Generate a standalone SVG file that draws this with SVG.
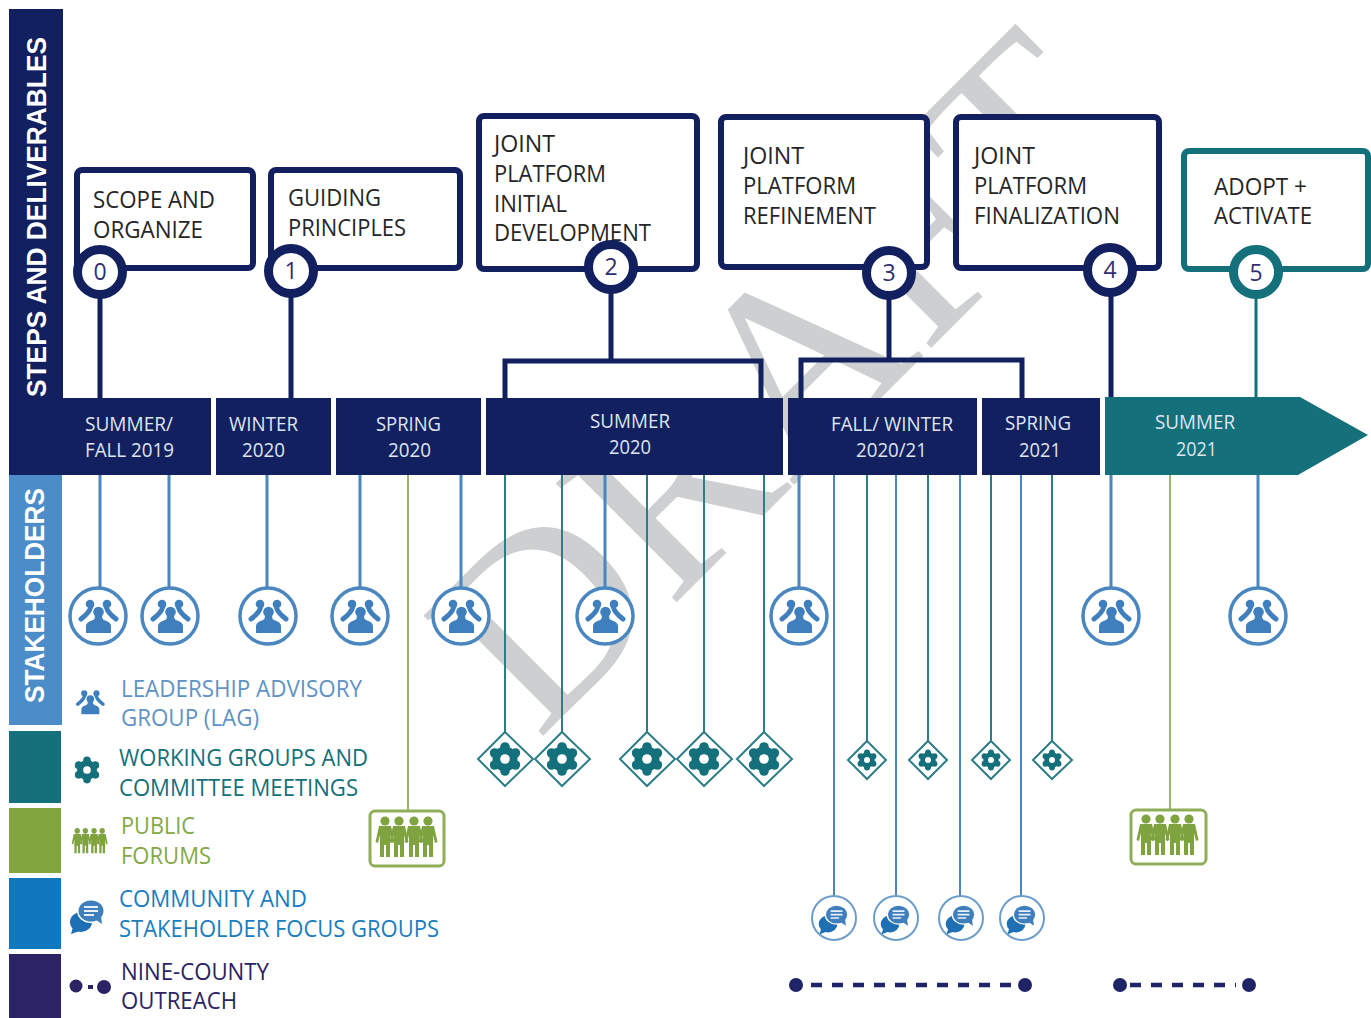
<svg xmlns="http://www.w3.org/2000/svg" xmlns:xlink="http://www.w3.org/1999/xlink" width="1371" height="1018" viewBox="0 0 1371 1018">
<style>
text{font-family:"Open Sans","Noto Sans","Liberation Sans",sans-serif}
.box{fill:#fff;stroke:#12205f;stroke-width:6}
.boxt{fill:#fff;stroke:#14707a;stroke-width:6}
.t{font-size:24px;fill:#262626}
.b{font-size:20px;fill:#dfe5ef}
.l{font-size:24px}
.num{font-size:23px;fill:#2f2f72;text-anchor:middle}
.ring{fill:#fff;stroke:#12205f;stroke-width:9}
.ringt{fill:#fff;stroke:#14707a;stroke-width:9}
.side{font-family:"Liberation Sans",Arial,sans-serif;font-weight:700;font-size:27px;fill:#fff}
.nv{fill:none;stroke:#12205f;stroke-width:5}
.bl{fill:none;stroke:#4a86c0;stroke-width:3}
.bt{fill:none;stroke:#4a86c0;stroke-width:2}
.te{fill:none;stroke:#2d7d86;stroke-width:2}
.gr{fill:none;stroke:#9db56a;stroke-width:2}
.cp{fill:#fff;stroke:#4a86c0;stroke-width:3.5}
.cc{fill:#fff;stroke:#6d9dcb;stroke-width:2}
.dm{fill:#fff;stroke:#2d7d86;stroke-width:2}
.fb{fill:#fff;stroke:#8fae58;stroke-width:3}
</style>
<defs>
<g id="people">
<g fill="none" stroke="#3f7fbe" stroke-width="5" stroke-linecap="round"><path d="M-7 -9 Q-9 -3 -17 3"/><path d="M8 -9 Q10 -3 18 3"/></g>
<circle cx="-8" cy="-12" r="4.300" fill="#3f7fbe"/><circle cx="9" cy="-12" r="4.300" fill="#3f7fbe"/>
<circle cx="0.500" cy="-4" r="6.800" fill="#fff"/>
<path d="M-14 18 V9 Q-14 5 -7 3 L8 3 Q15 5 15 9 V18 Z" fill="#fff"/>
<circle cx="0.500" cy="-4" r="5.300" fill="#3f7fbe"/>
<path d="M-12 17 V10 Q-12 6 -5 4 Q-3 3 -3 0 H4 Q4 3 6 4 Q13 6 13 10 V17 Z" fill="#3f7fbe"/>
</g>
<g id="gear" fill="#14707a">
<circle r="12.500"/>
<circle cx="0" cy="-12" r="4.800"/><circle cx="10.400" cy="-6" r="4.800"/><circle cx="10.400" cy="6" r="4.800"/><circle cx="0" cy="12" r="4.800"/><circle cx="-10.400" cy="6" r="4.800"/><circle cx="-10.400" cy="-6" r="4.800"/>
<circle r="4.800" fill="#fff"/>
</g>
<g id="chat">
<ellipse cx="-7" cy="7" rx="11" ry="10" fill="#1f6fb5"/>
<path d="M-15 12 L-17 19 L-8 16Z" fill="#1f6fb5"/>
<ellipse cx="3" cy="-4" rx="14" ry="12" fill="#fff"/>
<ellipse cx="3" cy="-4" rx="12.500" ry="10.500" fill="#3f7fbe"/>
<path d="M8 5 L14 9 L13 1Z" fill="#3f7fbe"/>
<path d="M-4 -8 H10 M-4 -4 H10 M-4 0 H6" stroke="#e8f0f8" stroke-width="2"/>
</g>
<g id="person" fill="#7ea33f">
<circle cx="0" cy="-18" r="4.600"/>
<path d="M-6 -13 H6 L9.500 3 L7 4 L5 -4 V18 H1 V6 H-1 V18 H-5 V-4 L-7 4 L-9.500 3 Z"/>
</g>
<g id="crowd">
<use xlink:href="#person" href="#person" x="-22"/><use xlink:href="#person" href="#person" x="-8"/><use xlink:href="#person" href="#person" x="7"/><use xlink:href="#person" href="#person" x="21"/>
</g>
</defs>

<rect width="1371" height="1018" fill="#fff"/>
<text id="watermark" transform="translate(538 741) rotate(-45)" style="font-family:'Liberation Serif','Times New Roman',serif" font-size="259" fill="#cdcfd0">DRAFT</text>

<g id="connectors">
<path class="nv" d="M100 290V398M291 290V398M611 290V360M505 398V361H761V398M889 295V359M801 398V360H1022V398M1111 292V398"/>
<path d="M1256 290V398" fill="none" stroke="#14707a" stroke-width="3"/>
<path class="bl" d="M100 475V590M169 475V590M267 475V590M360 475V590M461 475V590M605 475V590M799 475V590M1111 475V590M1258 475V590"/>
<path class="te" d="M505 475V735M562 475V735M647 475V735M704 475V735M764 475V735M867 475V742M928 475V742M991 475V742M1052 475V742"/>
<path class="bt" d="M834 475V897M896 475V897M960 475V897M1021 475V897"/>
<path class="gr" d="M408 475V811M1170 475V810"/>
<path d="M811 985H1018M1130 985H1236" fill="none" stroke="#1f2468" stroke-width="4.500" stroke-dasharray="11 10"/>
</g>

<g id="bars">
<rect x="9" y="9" width="54" height="466" fill="#12205f"/>
<rect x="9" y="398" width="202" height="77" fill="#12205f"/>
<rect x="216" y="398" width="115" height="77" fill="#12205f"/>
<rect x="336" y="398" width="145" height="77" fill="#12205f"/>
<rect x="486" y="398" width="297" height="77" fill="#12205f"/>
<rect x="788" y="398" width="189" height="77" fill="#12205f"/>
<rect x="982" y="398" width="118" height="77" fill="#12205f"/>
<path d="M1105 397H1300L1368 435L1298 475H1105Z" fill="#14707a"/>
<text class="b" x="85" y="431" textLength="88" lengthAdjust="spacingAndGlyphs">SUMMER/</text>
<text class="b" x="85" y="457" textLength="89" lengthAdjust="spacingAndGlyphs">FALL 2019</text>
<text class="b" x="229" y="431" textLength="69" lengthAdjust="spacingAndGlyphs">WINTER</text>
<text class="b" x="242" y="457" textLength="43" lengthAdjust="spacingAndGlyphs">2020</text>
<text class="b" x="376" y="431" textLength="65" lengthAdjust="spacingAndGlyphs">SPRING</text>
<text class="b" x="388" y="457" textLength="43" lengthAdjust="spacingAndGlyphs">2020</text>
<text class="b" x="590" y="428" textLength="80" lengthAdjust="spacingAndGlyphs">SUMMER</text>
<text class="b" x="609" y="454" textLength="42" lengthAdjust="spacingAndGlyphs">2020</text>
<text class="b" x="831" y="431" textLength="122" lengthAdjust="spacingAndGlyphs">FALL/ WINTER</text>
<text class="b" x="856" y="457" textLength="71" lengthAdjust="spacingAndGlyphs">2020/21</text>
<text class="b" x="1005" y="430" textLength="66" lengthAdjust="spacingAndGlyphs">SPRING</text>
<text class="b" x="1019" y="457" textLength="42" lengthAdjust="spacingAndGlyphs">2021</text>
<text class="b" x="1155" y="429" textLength="80" lengthAdjust="spacingAndGlyphs">SUMMER</text>
<text class="b" x="1176" y="456" textLength="41" lengthAdjust="spacingAndGlyphs">2021</text>
</g>

<g id="side-bands">
<text class="side" transform="translate(46 397) rotate(-90)" textLength="360" lengthAdjust="spacingAndGlyphs">STEPS AND DELIVERABLES</text>
<rect x="9" y="475" width="53" height="250" fill="#4c8cc8"/>
<text class="side" transform="translate(44 703) rotate(-90)" textLength="215" lengthAdjust="spacingAndGlyphs">STAKEHOLDERS</text>
<rect x="9" y="731" width="52" height="72" fill="#14707a"/>
<rect x="9" y="808" width="52" height="65" fill="#82a53f"/>
<rect x="9" y="878" width="52" height="71" fill="#1278bd"/>
<rect x="9" y="954" width="52" height="64" fill="#2b2363"/>
</g>

<g id="step-0"><rect class="box" x="77" y="170" width="176" height="98" rx="5"/>
<text class="t" x="93" y="208" textLength="122" lengthAdjust="spacingAndGlyphs">SCOPE AND</text><text class="t" x="93" y="238" textLength="110" lengthAdjust="spacingAndGlyphs">ORGANIZE</text>
<circle class="ring" cx="100" cy="272" r="22.500"/><text class="num" x="100" y="280">0</text></g>
<g id="step-1"><rect class="box" x="271" y="170" width="189" height="98" rx="5"/>
<text class="t" x="288" y="206" textLength="93" lengthAdjust="spacingAndGlyphs">GUIDING</text><text class="t" x="288" y="236" textLength="118" lengthAdjust="spacingAndGlyphs">PRINCIPLES</text>
<circle class="ring" cx="291" cy="271" r="22.500"/><text class="num" x="291" y="279">1</text></g>
<g id="step-2"><rect class="box" x="479" y="116" width="218" height="153" rx="5"/>
<text class="t" x="494" y="152" textLength="61" lengthAdjust="spacingAndGlyphs">JOINT</text><text class="t" x="494" y="182" textLength="112" lengthAdjust="spacingAndGlyphs">PLATFORM</text><text class="t" x="494" y="212" textLength="73" lengthAdjust="spacingAndGlyphs">INITIAL</text><text class="t" x="494" y="241" textLength="157" lengthAdjust="spacingAndGlyphs">DEVELOPMENT</text>
<circle class="ring" cx="611" cy="267" r="22.500"/><text class="num" x="611" y="275">2</text></g>
<g id="step-3"><rect class="box" x="721" y="117" width="206" height="150" rx="5"/>
<text class="t" x="743" y="164" textLength="61" lengthAdjust="spacingAndGlyphs">JOINT</text><text class="t" x="743" y="194" textLength="113" lengthAdjust="spacingAndGlyphs">PLATFORM</text><text class="t" x="743" y="224" textLength="133" lengthAdjust="spacingAndGlyphs">REFINEMENT</text>
<circle class="ring" cx="889" cy="273" r="22.500"/><text class="num" x="889" y="281">3</text></g>
<g id="step-4"><rect class="box" x="956" y="117" width="203" height="151" rx="5"/>
<text class="t" x="974" y="164" textLength="61" lengthAdjust="spacingAndGlyphs">JOINT</text><text class="t" x="974" y="194" textLength="113" lengthAdjust="spacingAndGlyphs">PLATFORM</text><text class="t" x="974" y="224" textLength="146" lengthAdjust="spacingAndGlyphs">FINALIZATION</text>
<circle class="ring" cx="1110" cy="270" r="22.500"/><text class="num" x="1110" y="278">4</text></g>
<g id="step-5"><rect class="boxt" x="1184" y="151" width="184" height="118" rx="5"/>
<text class="t" x="1214" y="195" textLength="93" lengthAdjust="spacingAndGlyphs">ADOPT +</text><text class="t" x="1214" y="224" textLength="98" lengthAdjust="spacingAndGlyphs">ACTIVATE</text>
<circle class="ringt" cx="1256" cy="272" r="22.500"/><text class="num" x="1256" y="281">5</text></g>

<g id="lag-nodes">
<g id="lag-1"><circle class="cp" cx="98" cy="616" r="28"/><use xlink:href="#people" href="#people" x="98" y="616"/></g>
<g id="lag-2"><circle class="cp" cx="170" cy="616" r="28"/><use xlink:href="#people" href="#people" x="170" y="616"/></g>
<g id="lag-3"><circle class="cp" cx="268" cy="616" r="28"/><use xlink:href="#people" href="#people" x="268" y="616"/></g>
<g id="lag-4"><circle class="cp" cx="360" cy="616" r="28"/><use xlink:href="#people" href="#people" x="360" y="616"/></g>
<g id="lag-5"><circle class="cp" cx="461" cy="616" r="28"/><use xlink:href="#people" href="#people" x="461" y="616"/></g>
<g id="lag-6"><circle class="cp" cx="605" cy="616" r="28"/><use xlink:href="#people" href="#people" x="605" y="616"/></g>
<g id="lag-7"><circle class="cp" cx="799" cy="616" r="28"/><use xlink:href="#people" href="#people" x="799" y="616"/></g>
<g id="lag-8"><circle class="cp" cx="1111" cy="616" r="28"/><use xlink:href="#people" href="#people" x="1111" y="616"/></g>
<g id="lag-9"><circle class="cp" cx="1258" cy="616" r="28"/><use xlink:href="#people" href="#people" x="1258" y="616"/></g>
</g>

<g id="working-nodes">
<g id="wg-1"><path class="dm" d="M505 732L533 759L505 786L478 759Z"/><use xlink:href="#gear" href="#gear" transform="translate(505 759)"/></g>
<g id="wg-2"><path class="dm" d="M562 732L590 759L562 786L535 759Z"/><use xlink:href="#gear" href="#gear" transform="translate(562 759)"/></g>
<g id="wg-3"><path class="dm" d="M647 732L675 759L647 786L620 759Z"/><use xlink:href="#gear" href="#gear" transform="translate(647 759)"/></g>
<g id="wg-4"><path class="dm" d="M704 732L732 759L704 786L677 759Z"/><use xlink:href="#gear" href="#gear" transform="translate(704 759)"/></g>
<g id="wg-5"><path class="dm" d="M764 732L792 759L764 786L737 759Z"/><use xlink:href="#gear" href="#gear" transform="translate(764 759)"/></g>
<g id="wg-6"><path class="dm" d="M867 741L886 760L867 779L848 760Z"/><use xlink:href="#gear" href="#gear" transform="translate(867 760) scale(.62)"/></g>
<g id="wg-7"><path class="dm" d="M928 741L947 760L928 779L909 760Z"/><use xlink:href="#gear" href="#gear" transform="translate(928 760) scale(.62)"/></g>
<g id="wg-8"><path class="dm" d="M991 741L1010 760L991 779L972 760Z"/><use xlink:href="#gear" href="#gear" transform="translate(991 760) scale(.62)"/></g>
<g id="wg-9"><path class="dm" d="M1052 741L1072 760L1052 779L1033 760Z"/><use xlink:href="#gear" href="#gear" transform="translate(1052 760) scale(.62)"/></g>
</g>

<g id="forum-nodes">
<g id="forum-1"><rect class="fb" x="370" y="811" width="74" height="55" rx="5"/><use xlink:href="#crowd" href="#crowd" x="407" y="839"/></g>
<g id="forum-2"><rect class="fb" x="1131" y="810" width="75" height="54" rx="5"/><use xlink:href="#crowd" href="#crowd" x="1168" y="837"/></g>
</g>

<g id="focus-nodes">
<g id="fg-1"><circle class="cc" cx="834" cy="918" r="22"/><use xlink:href="#chat" href="#chat" transform="translate(834 918) scale(.85)"/></g>
<g id="fg-2"><circle class="cc" cx="896" cy="918" r="22"/><use xlink:href="#chat" href="#chat" transform="translate(896 918) scale(.85)"/></g>
<g id="fg-3"><circle class="cc" cx="961" cy="918" r="22"/><use xlink:href="#chat" href="#chat" transform="translate(961 918) scale(.85)"/></g>
<g id="fg-4"><circle class="cc" cx="1022" cy="918" r="22"/><use xlink:href="#chat" href="#chat" transform="translate(1022 918) scale(.85)"/></g>
</g>

<g id="outreach-nodes" fill="#1f2468">
<circle cx="796" cy="985" r="7"/><circle cx="1025" cy="985" r="7"/><circle cx="1120" cy="985" r="7"/><circle cx="1249" cy="985" r="7"/>
</g>

<g id="legend">
<g id="legend-lag"><use xlink:href="#people" href="#people" transform="translate(90 702) scale(.72)"/>
<text class="l" fill="#5f93c6" x="121" y="697" textLength="241" lengthAdjust="spacingAndGlyphs">LEADERSHIP ADVISORY</text><text class="l" fill="#5f93c6" x="121" y="726" textLength="138" lengthAdjust="spacingAndGlyphs">GROUP (LAG)</text></g>
<g id="legend-wg"><use xlink:href="#gear" href="#gear" transform="translate(87 770) scale(.8)"/>
<text class="l" fill="#14707a" x="119" y="766" textLength="249" lengthAdjust="spacingAndGlyphs">WORKING GROUPS AND</text><text class="l" fill="#14707a" x="119" y="796" textLength="239" lengthAdjust="spacingAndGlyphs">COMMITTEE MEETINGS</text></g>
<g id="legend-forum"><use xlink:href="#crowd" href="#crowd" transform="translate(90 842) scale(.58 .62)"/>
<text class="l" fill="#84a846" x="121" y="834" textLength="74" lengthAdjust="spacingAndGlyphs">PUBLIC</text><text class="l" fill="#84a846" x="121" y="864" textLength="90" lengthAdjust="spacingAndGlyphs">FORUMS</text></g>
<g id="legend-focus"><use xlink:href="#chat" href="#chat" transform="translate(88 915)"/>
<text class="l" fill="#1b7dbf" x="119" y="907" textLength="188" lengthAdjust="spacingAndGlyphs">COMMUNITY AND</text><text class="l" fill="#1b7dbf" x="119" y="937" textLength="320" lengthAdjust="spacingAndGlyphs">STAKEHOLDER FOCUS GROUPS</text></g>
<g id="legend-outreach" fill="#2b2363"><circle cx="76" cy="986" r="6.500"/><rect x="88" y="985" width="5" height="4"/><circle cx="104" cy="987" r="7"/>
<text class="l" x="121" y="980" textLength="148" lengthAdjust="spacingAndGlyphs">NINE-COUNTY</text><text class="l" x="121" y="1009" textLength="116" lengthAdjust="spacingAndGlyphs">OUTREACH</text></g>
</g>
</svg>
